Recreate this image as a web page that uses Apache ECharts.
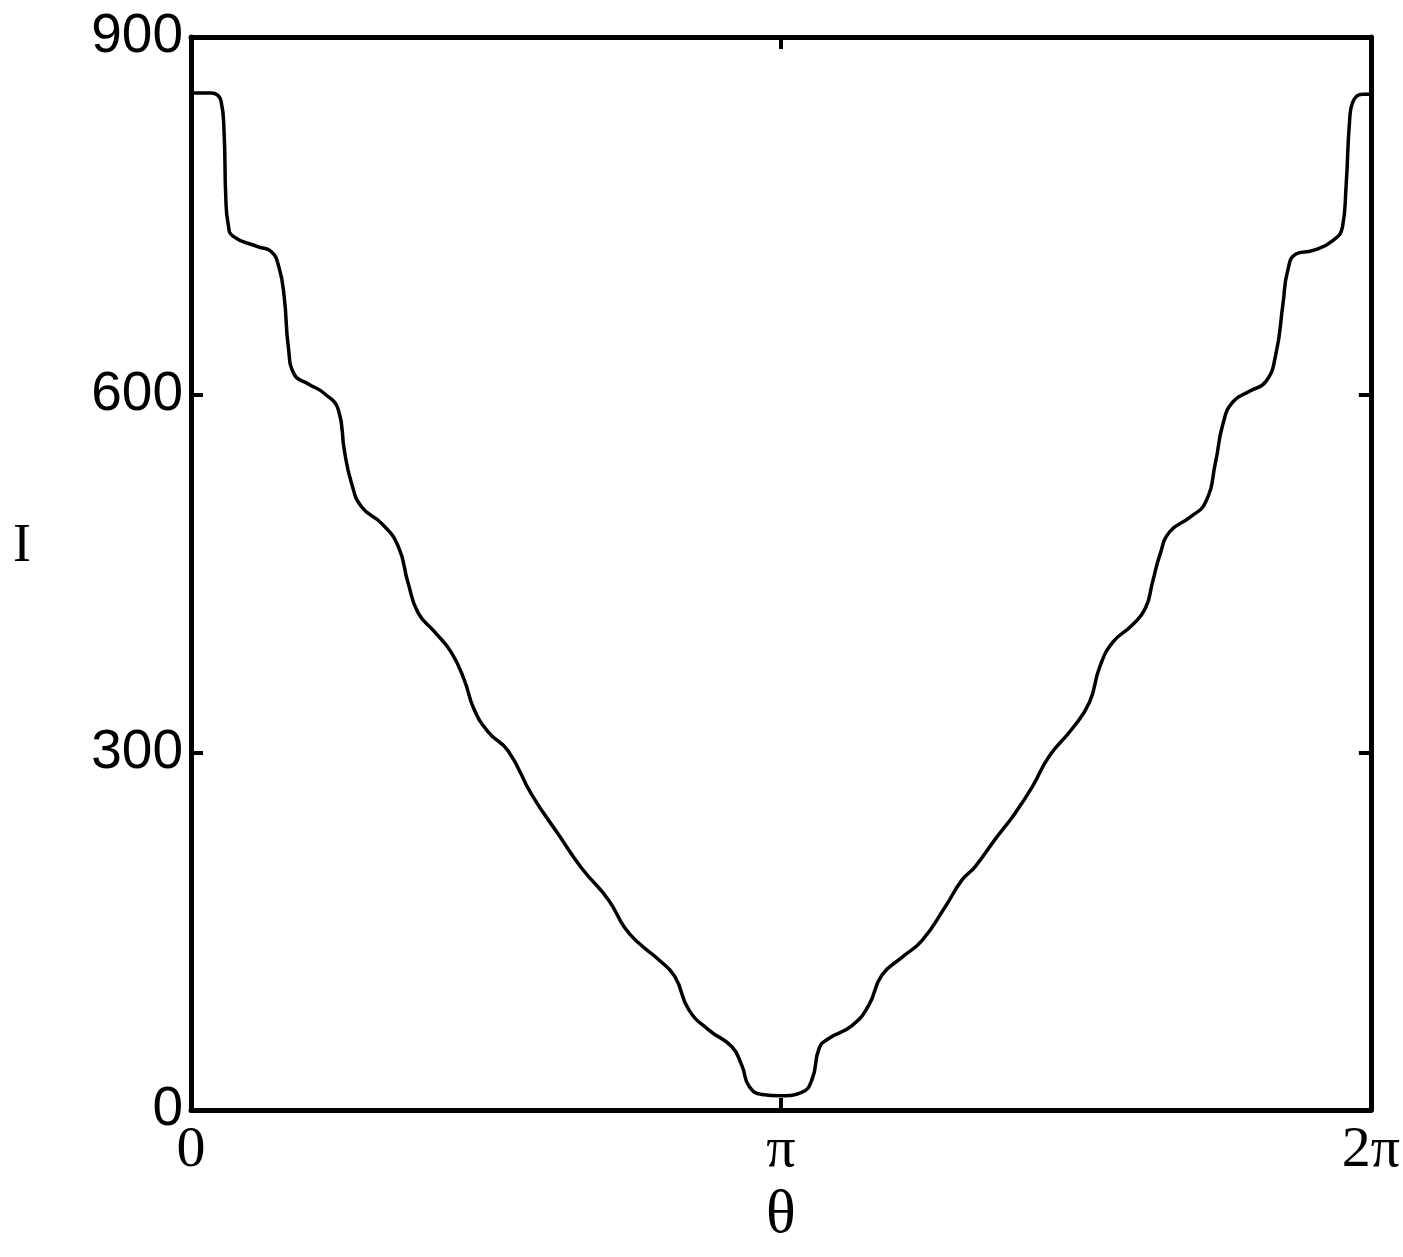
<!DOCTYPE html>
<html>
<head>
<meta charset="utf-8">
<title>I versus θ</title>
<script src="https://cdn.jsdelivr.net/npm/echarts@6/dist/echarts.min.js"></script>
<style>
  html, body { margin: 0; padding: 0; background: #ffffff; }
  #chart { width: 1403px; height: 1257px; }
</style>
</head>
<body>
<div id="chart"></div>
<script>
// θ in units of π (0 … 2)
const thetaOverPi = [
  0.000, 0.012, 0.034, 0.051, 0.056, 0.059, 0.063, 0.071, 0.114, 0.136,
  0.149, 0.158, 0.165, 0.175, 0.199, 0.226, 0.250, 0.260, 0.272, 0.289,
  0.323, 0.351, 0.368, 0.385, 0.413, 0.441, 0.463, 0.480, 0.504, 0.538,
  0.577, 0.623, 0.662, 0.708, 0.735, 0.759, 0.793, 0.820, 0.844, 0.878,
  0.917, 0.934, 0.946, 0.968, 1.000, 1.036, 1.053, 1.065, 1.081, 1.121,
  1.149, 1.171, 1.205, 1.239, 1.278, 1.307, 1.329, 1.363, 1.397, 1.426,
  1.455, 1.494, 1.523, 1.540, 1.562, 1.596, 1.618, 1.630, 1.642, 1.659,
  1.693, 1.720, 1.737, 1.749, 1.766, 1.795, 1.822, 1.839, 1.851, 1.859,
  1.873, 1.902, 1.935, 1.952, 1.958, 1.964, 1.969, 1.986, 2.000
];

// intensity I
const intensity = [
  853, 853, 853, 846, 821, 765, 743, 733, 724, 720,
  707, 682, 640, 617, 609, 601, 587, 553, 526, 506,
  492, 473, 442, 417, 401, 384, 361, 336, 317, 301,
  265, 231, 203, 176, 153, 140, 126, 112, 84, 67,
  53, 37, 20, 13, 12, 15, 26, 52, 60, 71,
  88, 113, 128, 142, 170, 193, 204, 227, 249, 271,
  297, 320, 342, 371, 392, 407, 421, 443, 465, 485,
  497, 510, 544, 575, 594, 603, 611, 634, 676, 704,
  718, 721, 729, 741, 775, 830, 845, 852, 852
];

// tick labels
const yTicks = [0, 300, 600, 900];
const xTickLabels = ['0', 'π', '2π'];

const points = thetaOverPi.map((t, i) => [t, intensity[i]]);

const frame = { show: true, onZero: false, lineStyle: { color: '#000', width: 5 } };
const tickIn = { show: true, inside: true, length: 12, lineStyle: { color: '#000', width: 4 } };

const chart = echarts.init(document.getElementById('chart'), null, { renderer: 'canvas' });
chart.setOption({
  backgroundColor: '#ffffff',
  animation: false,
  grid: { left: 191, right: 31, top: 37, bottom: 147 },
  xAxis: [
    {
      type: 'value', position: 'bottom', min: 0, max: 2, interval: 1,
      name: 'θ', nameLocation: 'middle', nameGap: 70,
      nameTextStyle: { fontFamily: 'Liberation Serif', fontSize: 62, color: '#000' },
      axisLine: frame, axisTick: tickIn, splitLine: { show: false },
      axisLabel: {
        margin: 12, color: '#000', fontFamily: 'Liberation Serif', fontSize: 58,
        formatter: v => xTickLabels[Math.round(v)]
      }
    },
    {
      type: 'value', position: 'top', min: 0, max: 2, interval: 1,
      axisLine: frame, axisTick: tickIn, axisLabel: { show: false }, splitLine: { show: false }
    }
  ],
  yAxis: [
    {
      type: 'value', position: 'left', min: 0, max: 900, interval: 300,
      name: 'I', nameLocation: 'middle', nameGap: 160, nameRotate: 0,
      nameTextStyle: { fontFamily: 'Liberation Serif', fontSize: 54, color: '#000', verticalAlign: 'bottom' },
      axisLine: frame, axisTick: tickIn, splitLine: { show: false },
      axisLabel: {
        margin: 8, color: '#000', fontFamily: 'Liberation Sans', fontSize: 55,
        formatter: v => (yTicks.indexOf(v) >= 0 ? String(v) : '')
      }
    },
    {
      type: 'value', position: 'right', min: 0, max: 900, interval: 300,
      axisLine: frame, axisTick: tickIn, axisLabel: { show: false }, splitLine: { show: false }
    }
  ],
  series: [
    {
      type: 'line', xAxisIndex: 0, yAxisIndex: 0,
      data: points, showSymbol: false, smooth: 0.5,
      lineStyle: { color: '#000', width: 3.5 }
    }
  ]
});
</script>
</body>
</html>
